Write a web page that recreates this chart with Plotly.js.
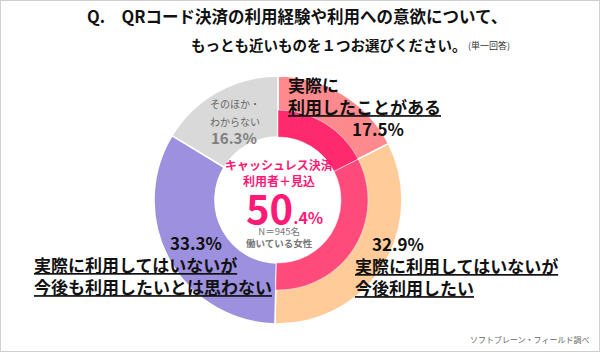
<!DOCTYPE html>
<html>
<head>
<meta charset="utf-8">
<script src="https://cdn.plot.ly/plotly-3.0.1.min.js"></script>
<style>html,body{margin:0;padding:0;background:#fff;}#chart{width:600px;height:352px;}</style>
</head>
<body>
<div id="chart"></div>
<script>
// ---- data ----
const categories = [
  '実際に利用したことがある',
  '実際に利用してはいないが今後利用したい',
  '実際に利用してはいないが今後も利用したいとは思わない',
  'そのほか・わからない'
];
const shares = [17.5, 32.9, 33.3, 16.3];
const innerCategories = ['利用したことがある', '今後利用したい', 'その他'];
const innerShares = [17.5, 32.9, 49.6];
const centerTotal = '50';
const centerDecimal = '.4%';
const sampleNote = 'N＝945名';
const sampleGroup = '働いている女性';
const titleLine1 = 'Q.　QRコード決済の利用経験や利用への意欲について、';
const titleLine2 = 'もっとも近いものを１つお選びください。';
const titleNote = '(単一回答)';
const source = 'ソフトブレーン・フィールド調べ';

// ---- styling ----
const W = 600, H = 352;
const FONT = '"Noto Sans CJK JP", "Noto Sans", sans-serif';
const outerColors = ['#FF8A8E', '#FFCC99', '#9D90DF', '#D9D9D9'];
const innerColors = ['#FF2A6E', '#FF4A7C', 'rgba(0,0,0,0)'];
const px = x => x / W;
const py = y => 1 - y / H;

const cx = 278, cy = 200, rOut = 124, rMid = 90, rIn = 63;

const outer = {
  type: 'pie', values: shares, labels: categories, sort: false, direction: 'clockwise',
  hole: rIn / rOut, textinfo: 'none', hoverinfo: 'label+value',
  marker: {colors: outerColors, line: {color: '#ffffff', width: 1.5}},
  domain: {x: [px(cx - rOut), px(cx + rOut)], y: [py(cy + rOut), py(cy - rOut)]},
  showlegend: false
};
const inner = {
  type: 'pie', values: innerShares, labels: innerCategories, sort: false, direction: 'clockwise',
  hole: rIn / rMid, textinfo: 'none', hoverinfo: 'skip',
  marker: {colors: innerColors, line: {color: ['rgba(255,255,255,0.6)', 'rgba(255,255,255,0.6)', 'rgba(0,0,0,0)'], width: 0.8}},
  domain: {x: [px(cx - rMid), px(cx + rMid)], y: [py(cy + rMid), py(cy - rMid)]},
  showlegend: false
};

function ann(text, x, y, size, color, xanchor, extra) {
  return Object.assign({
    text: text, x: px(x), y: py(y), xref: 'paper', yref: 'paper', showarrow: false,
    xanchor: xanchor || 'center', yanchor: 'middle', borderpad: 0,
    align: xanchor === 'left' ? 'left' : (xanchor === 'right' ? 'right' : 'center'),
    font: {family: FONT, size: size, color: color}
  }, extra || {});
}

const pct = v => v.toFixed(1) + '%';
const annotations = [
  ann('<b>' + titleLine1 + '</b>', 86, 16, 16.5, '#111', 'left'),
  ann('<b>' + titleLine2 + '</b>', 190, 44, 14.5, '#111', 'left'),
  ann(titleNote, 467, 46, 9, '#333', 'left'),

  ann('<b>実際に</b><br><b><u>利用したことがある</u></b>', 287, 95.5, 17, '#111', 'left'),
  ann('<b>' + pct(shares[0]) + '</b>', 378, 128, 17, '#111', 'center'),

  ann('<b>' + pct(shares[1]) + '</b>', 398, 243, 17, '#111', 'center'),
  ann('<b><u>実際に利用してはいないが</u></b><br><b><u>今後利用したい</u></b>', 354, 276, 17, '#111', 'left'),

  ann('<b>' + pct(shares[2]) + '</b>', 196, 242, 17, '#111', 'center'),
  ann('<b><u>実際に利用してはいないが</u></b><br><b><u>今後も利用したいとは思わない</u></b>', 33, 275.5, 17, '#111', 'left'),

  ann('そのほか・', 235, 104, 10, '#666', 'center'),
  ann('わからない', 235, 121, 10, '#666', 'center'),
  ann('<b>' + pct(shares[3]) + '</b>', 234, 137, 15, '#7F7F7F', 'center'),

  ann('<b>キャッシュレス決済</b><br><b>利用者＋見込</b>', 279, 172.5, 12, '#FF1A75', 'center'),
  ann('<b>' + centerTotal + '<span style="font-size:16px">' + centerDecimal + '</span></b>',
      284, 207, 40, '#FF1A75', 'center', {height: 36}),
  ann(sampleNote + '<br><b>' + sampleGroup + '</b>', 279, 237, 9.5, '#777', 'center'),

  ann(source, 590, 339, 8, '#666', 'right')
];

const layout = {
  width: W, height: H, margin: {l: 0, r: 0, t: 0, b: 0},
  paper_bgcolor: '#ffffff', plot_bgcolor: '#ffffff',
  showlegend: false, annotations: annotations,
  shapes: [{type: 'rect', xref: 'paper', yref: 'paper', x0: 0, y0: 0, x1: 1, y1: 1,
            line: {color: '#D0D0D0', width: 2}}]
};

Plotly.newPlot('chart', [outer, inner], layout, {displayModeBar: false, staticPlot: true});
</script>
</body>
</html>
